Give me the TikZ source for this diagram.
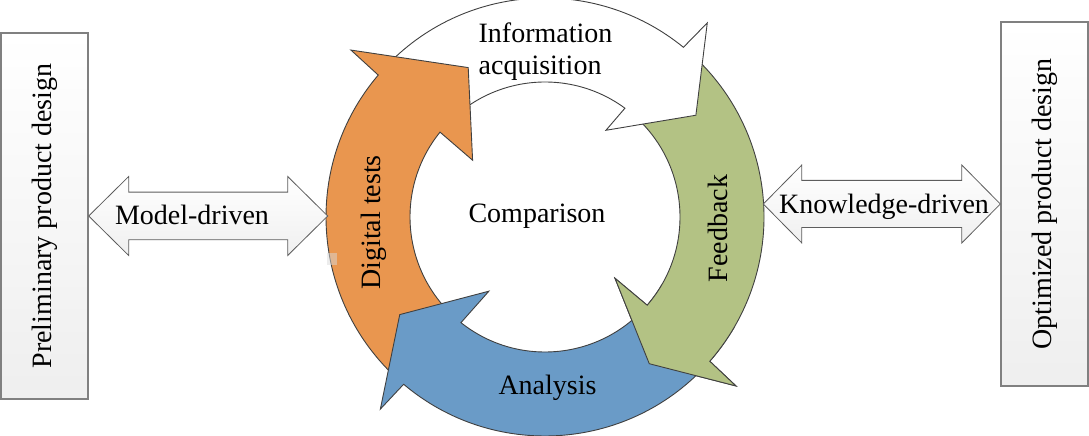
\documentclass[tikz,border=0pt]{standalone}
\usepackage{fontspec}
\setmainfont{Liberation Serif}
\definecolor{testfill}{HTML}{E9964F}
\definecolor{feedfill}{HTML}{B3C284}
\definecolor{anafill}{HTML}{6A9BC7}
\definecolor{ringline}{HTML}{404040}
\definecolor{boxline}{HTML}{808080}

% ring segment: fill, tail angle, outer neck, outer barb, tip, inner barb, inner neck
\newcommand{\ringarrow}[7]{%
  \draw[ring, fill=#1] (#2:219pt) arc[start angle=#2, end angle=#3, radius=219pt]
    -- (#4) -- (#5) -- (#6) -- (#7:135pt) arc[start angle=#7, end angle=#2, radius=135pt] -- cycle;}

\begin{document}
\begin{tikzpicture}[
  x=1pt, y=1pt,
  ring/.style={draw=ringline, line width=0.9pt},
  lbl/.style={font=\fontsize{28}{32}\selectfont, inner sep=0pt},
  panel/.style={draw=boxline, line width=1.4pt, top color=white, bottom color=gray!13, minimum width=87pt, inner sep=0pt, font=\fontsize{28}{32}\selectfont},
  link/.style={draw=ringline!85, line width=0.8pt, top color=white, bottom color=gray!12},
]
\useasboundingbox (0,0) rectangle (1089,436);

\begin{scope}[shift={(545,219)}]
\ringarrow{feedfill}{49}{-41.2}{-41.5:255pt}{-54.6:180pt}{-41.2:93pt}{-40.8}
\ringarrow{white}{137}{50.8}{50.1:253pt}{34:182pt}{54.9:106pt}{53.7}
\ringarrow{testfill}{228}{139.6}{139.3:256pt}{117.2:168pt}{141.9:92pt}{141.05}
\ringarrow{anafill}{-43}{-130.2}{-130.6:253pt}{-146.1:175pt}{-127.1:93pt}{-128.5}
\begin{scope}
\clip (0,0) -- (-30:285pt) arc[start angle=-30, end angle=-64, radius=285pt] -- cycle;
\ringarrow{feedfill}{49}{-41.2}{-41.5:255pt}{-54.6:180pt}{-41.2:93pt}{-40.8}
\end{scope}
\end{scope}
\fill[gray!30, opacity=0.5] (327,171) rectangle (337,183);

\node[lbl, align=left] (info) at (545.5,384.5) {Information\\acquisition};
\node[lbl, anchor=base] (comp) at (537,213) {Comparison};
\node[lbl, rotate=90, anchor=base] (tests) at (380,213.5) {Digital tests};
\node[lbl, rotate=90, anchor=base] (feed) at (727,207.5) {Feedback};
\node[lbl, anchor=base] (ana) at (547.5,41) {Analysis};

\node[panel, minimum height=366pt] (prelim) at (44.5,220) {\rotatebox{90}{Preliminary product design}};
\node[panel, minimum height=364pt] (optim) at (1044.5,232) {\rotatebox{90}{Optimized product design}};

\draw[link] (prelim.east) -- ++(40,39.5) -- ++(0,-15.65) -- ++(159,0) -- ++(0,15.65) -- ++(40,-39.5)
  -- ++(-40,-39.5) -- ++(0,15.65) -- ++(-159,0) -- ++(0,-15.65) -- cycle;
\draw[link] (optim.west) -- ++(-38.5,39) -- ++(0,-15.4) -- ++(-160,0) -- ++(0,15.4) -- ++(-38.5,-39)
  -- ++(38.5,-39) -- ++(0,15.4) -- ++(160,0) -- ++(0,-15.4) -- cycle;
\node[lbl, anchor=base] (model) at (192,211.7) {Model-driven};
\node[lbl, anchor=base] (know) at (884,222) {Knowledge-driven};
\end{tikzpicture}
\end{document}
